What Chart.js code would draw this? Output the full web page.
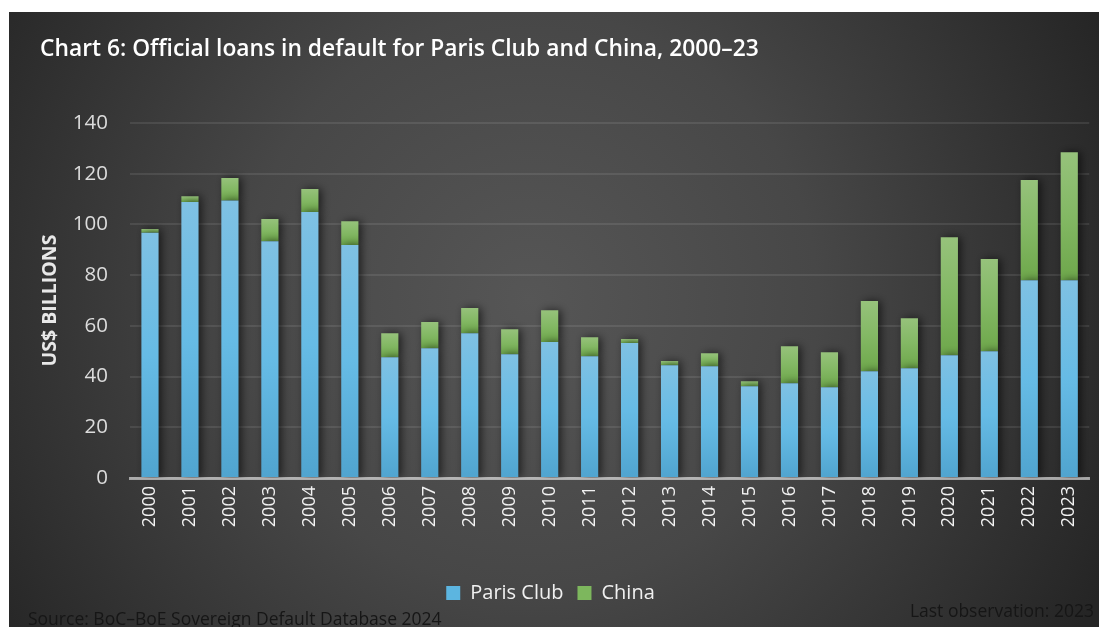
<!DOCTYPE html>
<html>
<head>
<meta charset="utf-8">
<script src="https://cdn.jsdelivr.net/npm/chart.js@4.4.1/dist/chart.umd.min.js"></script>
<style>
  body { margin: 0; background: #fff; }
  #wrap { position: relative; width: 1099px; height: 627px; overflow: hidden; }
  #title { position: absolute; left: 40px; top: 32px; color: #fff; font: 600 22.8px "Open Sans", sans-serif; white-space: nowrap; }
  .note { position: absolute; color: #161616; font: 17.5px "Open Sans", sans-serif; white-space: nowrap; }
</style>
</head>
<body>
<div id="wrap">
  <canvas id="loans" width="1099" height="627"></canvas>
  <div id="title">Chart 6: Official loans in default for Paris Club and China, 2000–23</div>
  <div class="note" style="left:28px; top:606px;">Source: BoC–BoE Sovereign Default Database 2024</div>
  <div class="note" style="right:5px; top:598px;">Last observation: 2023</div>
</div>
<script>
// Dữ liệu (tỷ USD)
const years = ['2000','2001','2002','2003','2004','2005','2006','2007','2008','2009','2010','2011',
               '2012','2013','2014','2015','2016','2017','2018','2019','2020','2021','2022','2023'];
const parisClub = [96.7, 108.8, 109.4, 93.4, 104.9, 91.9, 47.6, 51.2, 57.1, 48.8, 53.6, 48.0,
                   53.2, 44.5, 44.1, 36.2, 37.4, 35.8, 42.1, 43.3, 48.4, 50.0, 78.0, 78.0];
const china = [1.5, 2.3, 8.9, 8.7, 9.1, 9.4, 9.5, 10.3, 9.9, 9.9, 12.6, 7.5,
               1.6, 1.6, 5.1, 2.0, 14.6, 13.8, 27.7, 19.7, 46.5, 36.4, 39.5, 50.5];
const yTicks = [0, 20, 40, 60, 80, 100, 120, 140];

// Gradient cho từng cột
function barGradient(chart, from, to, c1, c2, c3) {
  const y = chart.scales.y;
  if (!y || !chart.chartArea) return c2;
  const top = y.getPixelForValue(to);
  const bottom = y.getPixelForValue(from);
  if (!isFinite(top) || !isFinite(bottom) || top === bottom) return c2;
  const g = chart.ctx.createLinearGradient(0, top, 0, bottom);
  g.addColorStop(0, c1);
  g.addColorStop(0.5, c2);
  g.addColorStop(1, c3);
  return g;
}

// Nền tối + đổ bóng cột
const panelBg = {
  id: 'panelBg',
  beforeDraw(chart) {
    const ctx = chart.ctx;
    ctx.save();
    ctx.fillStyle = '#ffffff';
    ctx.fillRect(0, 0, chart.width, chart.height);
    const g = ctx.createRadialGradient(530, 300, 0, 530, 300, 640);
    g.addColorStop(0, '#565656');
    g.addColorStop(0.45, '#474747');
    g.addColorStop(1, '#252525');
    ctx.fillStyle = g;
    ctx.fillRect(9, 12, chart.width - 9, chart.height - 12);
    ctx.restore();
  },
  beforeDatasetsDraw(chart) {
    const ctx = chart.ctx;
    ctx.save();
    ctx.shadowColor = 'rgba(0,0,0,0.6)';
    ctx.shadowBlur = 9;
    ctx.shadowOffsetX = 3;
    ctx.shadowOffsetY = 0;
  },
  afterDatasetsDraw(chart) {
    chart.ctx.restore();
  }
};

new Chart(document.getElementById('loans'), {
  type: 'bar',
  data: {
    labels: years,
    datasets: [{
      label: 'Paris Club',
      data: parisClub,
      backgroundColor: c => barGradient(c.chart, 0, parisClub[c.dataIndex], '#7fc1e3', '#66bbe5', '#50a4cf')
    }, {
      label: 'China',
      data: china,
      backgroundColor: c => barGradient(c.chart, parisClub[c.dataIndex], parisClub[c.dataIndex] + china[c.dataIndex], '#96c27b', '#83b864', '#6ea74b')
    }]
  },
  options: {
    responsive: false,
    animation: false,
    barPercentage: 0.43,
    categoryPercentage: 1,
    layout: { padding: { top: 123, left: 9, right: 7, bottom: 14 } },
    plugins: {
      title: { display: false },
      tooltip: { enabled: false },
      legend: {
        position: 'bottom',
        labels: {
          color: '#f0f0f0',
          font: { family: 'Open Sans', size: 20 },
          boxWidth: 14,
          boxHeight: 14,
          padding: 14,
          generateLabels: () => [
            { text: 'Paris Club', fillStyle: '#5cb5e0', strokeStyle: 'transparent', lineWidth: 0, fontColor: '#f0f0f0', datasetIndex: 0 },
            { text: 'China', fillStyle: '#7db75d', strokeStyle: 'transparent', lineWidth: 0, fontColor: '#f0f0f0', datasetIndex: 1 }
          ]
        }
      }
    },
    scales: {
      x: {
        stacked: true,
        z: 1,
        grid: { display: false, drawTicks: false },
        border: { display: true, color: 'rgba(255,255,255,0.55)', width: 3 },
        ticks: {
          color: '#f2f2f2',
          font: { family: 'Open Sans', size: 18 },
          minRotation: 90,
          maxRotation: 90,
          padding: 8
        },
        afterFit: s => { s.height = 91; }
      },
      y: {
        stacked: true,
        min: 0,
        max: 140,
        afterBuildTicks: s => { s.ticks = yTicks.map(v => ({ value: v })); },
        grid: { color: 'rgba(255,255,255,0.09)', lineWidth: 2, drawTicks: false },
        border: { display: false },
        ticks: {
          color: '#dcdcdc',
          font: { family: 'Open Sans', size: 20.5 },
          padding: 22
        },
        title: {
          display: true,
          text: 'US$ BILLIONS',
          color: '#e8e8e8',
          font: { family: 'Open Sans', size: 19.5, weight: 'bold' },
          padding: { top: 30, bottom: 0 }
        },
        afterFit: s => { s.width = 121; }
      }
    }
  },
  plugins: [panelBg]
});
</script>
</body>
</html>
